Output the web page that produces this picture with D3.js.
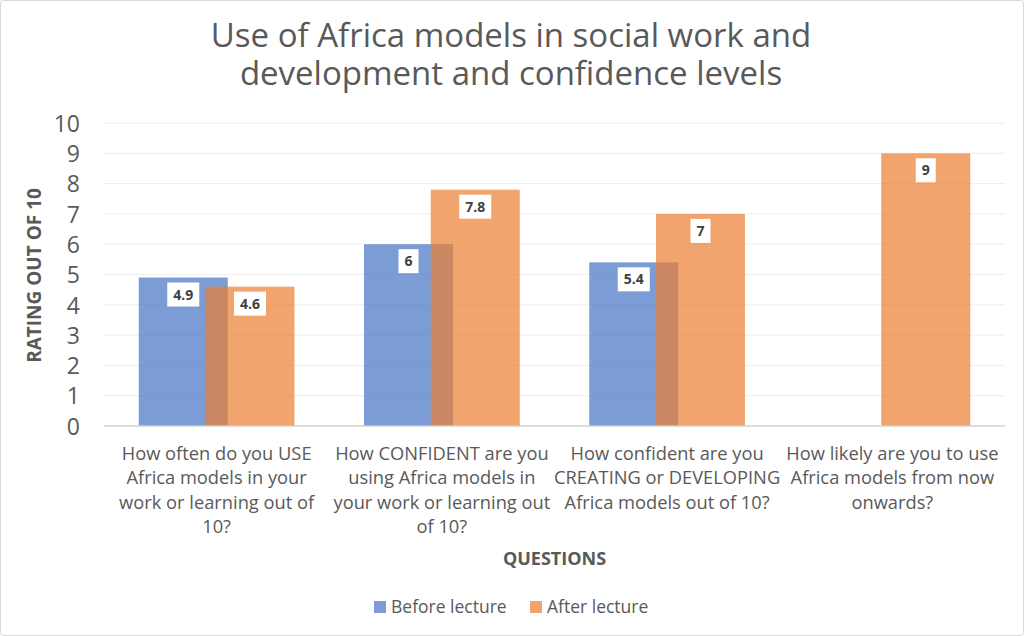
<!DOCTYPE html>
<html>
<head>
<meta charset="utf-8">
<script src="https://cdn.jsdelivr.net/npm/d3@7"></script>
<style>
  html, body { margin: 0; padding: 0; background: #fff; }
  svg { display: block; }
</style>
</head>
<body>
<div id="chart"></div>
<script>
// data
const categories = [
  ["How often do you USE", "Africa models in your", "work or learning out of", "10?"],
  ["How CONFIDENT are you", "using Africa models in", "your work or learning out", "of 10?"],
  ["How confident are you", "CREATING or DEVELOPING", "Africa models out of 10?"],
  ["How likely are you to use", "Africa models from now", "onwards?"]
];
const seriesNames = ["Before lecture", "After lecture"];
const beforeValues = [4.9, 6, 5.4, null];
const afterValues = [4.6, 7.8, 7, 9];
const yTicks = [0, 1, 2, 3, 4, 5, 6, 7, 8, 9, 10];
const titleLines = ["Use of Africa models in social work and", "development and confidence levels"];

const width = 1024, height = 636;
const font = "'Open Sans', Lato, 'Liberation Sans', sans-serif";
const colors = ["#4472C4", "#ED7D31"];
const textColor = "#595959";

const svg = d3.select("#chart").append("svg")
  .attr("width", width)
  .attr("height", height)
  .style("font-family", font);

// outer border
svg.append("rect")
  .attr("x", 0.5).attr("y", 0.5)
  .attr("width", width - 1).attr("height", height - 1)
  .attr("rx", 3)
  .attr("fill", "#fff")
  .attr("stroke", "#d9d9d9");

const plot = { left: 104, right: 1005, top: 123, bottom: 426 };

const x = d3.scaleBand()
  .domain(d3.range(categories.length))
  .range([plot.left, plot.right])
  .padding(0);

const y = d3.scaleLinear()
  .domain([0, 10])
  .range([plot.bottom, plot.top]);

const barW = x.bandwidth() * 0.395;
const step = barW * 0.75; // 25% overlap

// title
svg.append("g").selectAll("text")
  .data(titleLines)
  .enter().append("text")
  .attr("x", 511)
  .attr("y", (d, i) => 47 + i * 38)
  .attr("text-anchor", "middle")
  .attr("fill", textColor)
  .style("font-size", "33px")
  .text(d => d);

// gridlines
svg.append("g").selectAll("line")
  .data(yTicks.filter(t => t > 0))
  .enter().append("line")
  .attr("x1", plot.left).attr("x2", plot.right)
  .attr("y1", d => y(d)).attr("y2", d => y(d))
  .attr("stroke", "#ededed")
  .attr("stroke-width", 1);

// y axis labels
const yAxis = d3.axisLeft(y).tickValues(yTicks).tickSize(0).tickPadding(0);
const gy = svg.append("g")
  .attr("transform", `translate(${plot.left - 24},0)`)
  .call(yAxis);
gy.select(".domain").remove();
gy.selectAll("text")
  .attr("fill", textColor)
  .attr("dy", "0.36em")
  .style("font-family", font)
  .style("font-size", "23px");

svg.append("text")
  .attr("transform", `translate(41,${(plot.top + plot.bottom) / 2 + 1}) rotate(-90)`)
  .attr("text-anchor", "middle")
  .attr("fill", textColor)
  .style("font-weight", "bold")
  .style("font-size", "19px")
  .text("RATING OUT OF 10");

// bars
const series = [beforeValues, afterValues];
const barsG = svg.append("g");
series.forEach((vals, si) => {
  barsG.append("g").selectAll("rect")
    .data(vals.map((v, i) => ({ v, i })).filter(d => d.v != null))
    .enter().append("rect")
    .attr("x", d => x(d.i) + x.bandwidth() / 2 + (si - 0.5) * step - barW / 2)
    .attr("y", d => y(d.v))
    .attr("width", barW)
    .attr("height", d => y(0) - y(d.v))
    .attr("fill", colors[si])
    .attr("fill-opacity", 0.7);
});

// baseline
svg.append("line")
  .attr("x1", plot.left).attr("x2", plot.right)
  .attr("y1", plot.bottom).attr("y2", plot.bottom)
  .attr("stroke", "#d0d0d0")
  .attr("stroke-width", 1.5);

// data labels
series.forEach((vals, si) => {
  const lg = svg.append("g").selectAll("g")
    .data(vals.map((v, i) => ({ v, i })).filter(d => d.v != null))
    .enter().append("g")
    .attr("transform", d => `translate(${x(d.i) + x.bandwidth() / 2 + (si - 0.5) * step},${y(d.v) + 17})`);
  lg.append("rect")
    .attr("y", -12).attr("height", 24)
    .attr("fill", "#fff");
  lg.append("text")
    .attr("text-anchor", "middle")
    .attr("dy", "0.36em")
    .attr("fill", "#404040")
    .style("font-weight", "bold")
    .style("font-size", "14px")
    .text(d => d.v);
  lg.each(function () {
    const t = d3.select(this).select("text").node().getComputedTextLength();
    d3.select(this).select("rect").attr("x", -t / 2 - 6).attr("width", t + 12);
  });
});

// category labels
const catG = svg.append("g").selectAll("text")
  .data(categories)
  .enter().append("text")
  .attr("text-anchor", "middle")
  .attr("fill", textColor)
  .style("font-size", "18.3px");
catG.selectAll("tspan")
  .data((d, i) => d.map(line => ({ line, i })))
  .enter().append("tspan")
  .attr("x", d => x(d.i) + x.bandwidth() / 2)
  .attr("y", (d, j) => 460 + j * 24.4)
  .text(d => d.line);

svg.append("text")
  .attr("x", (plot.left + plot.right) / 2)
  .attr("y", 565)
  .attr("text-anchor", "middle")
  .attr("fill", textColor)
  .style("font-weight", "bold")
  .style("font-size", "18px")
  .text("QUESTIONS");

// legend
const legend = svg.append("g").attr("transform", "translate(374,607)");
const items = legend.selectAll("g")
  .data(seriesNames)
  .enter().append("g")
  .attr("transform", (d, i) => `translate(${i * 156},0)`);
items.append("rect")
  .attr("x", 0).attr("y", -6)
  .attr("width", 12).attr("height", 12)
  .attr("fill", (d, i) => colors[i])
  .attr("fill-opacity", 0.7);
items.append("text")
  .attr("x", 17)
  .attr("dy", "0.36em")
  .attr("fill", textColor)
  .style("font-size", "17.5px")
  .text(d => d);
</script>
</body>
</html>
